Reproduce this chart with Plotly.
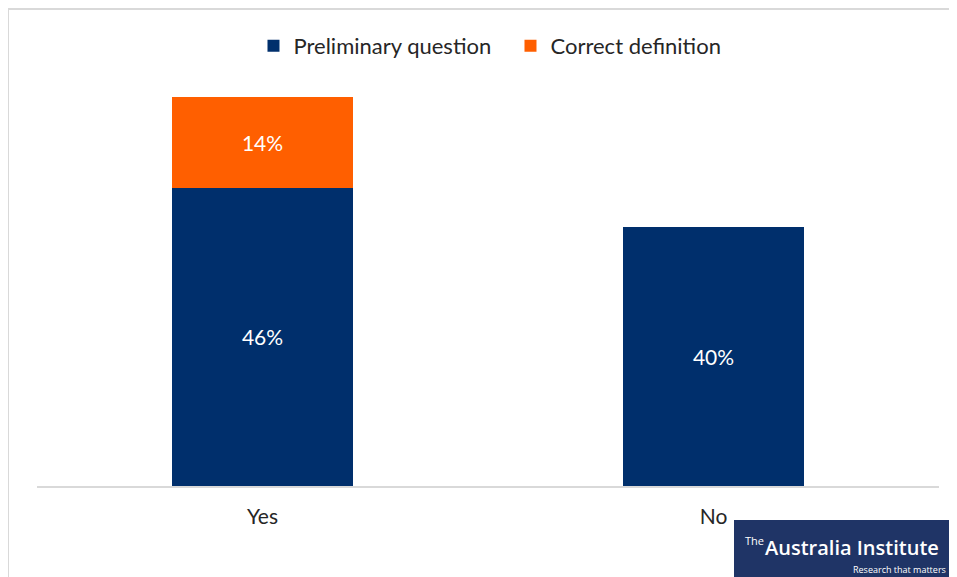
import plotly.graph_objects as go

categories = ["Yes", "No"]
preliminary = [46, 40]
correct_def = [14, None]
series_names = ["Preliminary question", "Correct definition"]

NAVY = "#002F6C"
ORANGE = "#FF5F00"
FONT = "Lato, 'Open Sans', sans-serif"

fig = go.Figure()
fig.add_trace(go.Bar(
    x=categories, y=preliminary, name=series_names[0],
    marker=dict(color=NAVY, line=dict(width=0)),
    text=[f"{v}%" for v in preliminary], textposition="inside",
    insidetextanchor="middle", textfont=dict(color="white", size=21, family=FONT),
))
fig.add_trace(go.Bar(
    x=categories, y=correct_def, name=series_names[1],
    marker=dict(color=ORANGE, line=dict(width=0)),
    text=[f"{v}%" if v is not None else "" for v in correct_def], textposition="inside",
    insidetextanchor="middle", textfont=dict(color="white", size=21, family=FONT),
))

# page body has an 8px margin; work in screen coordinates and shift
O = 8
W, H = 957 - O, 577 - O
L, R, T, B = 37 - O, 939 - O, 80 - O, 486 - O
pw, ph = R - L, B - T

def px(x):
    return (x - O - L) / pw

def py(y):
    return (B - (y - O)) / ph

fig.update_layout(
    width=W, height=H,
    margin=dict(l=L, r=W - R, t=T, b=H - B, pad=0),
    barmode="stack", bargap=0.6,
    plot_bgcolor="white", paper_bgcolor="white",
    font=dict(family=FONT, size=21, color="#262626"),
    showlegend=True,
    legend=dict(orientation="h", x=px(258) - 0.005, xanchor="left", y=py(46), yanchor="middle",
                font=dict(size=22, family=FONT, color="#262626"), traceorder="normal",
                itemwidth=30, entrywidth=212, entrywidthmode="pixels"),
    xaxis=dict(showgrid=False, showline=True, linecolor="#D9D9D9", linewidth=2,
               ticks="", ticklabelstandoff=11,
               tickfont=dict(size=21, family=FONT, color="#262626")),
    yaxis=dict(range=[0, 60 * ph / 389], visible=False, showgrid=False),
    shapes=[
        dict(type="rect", xref="paper", yref="paper",
             x0=px(8), x1=px(1000), y0=py(600), y1=py(9),
             line=dict(color="#D9D9D9", width=2), fillcolor="rgba(0,0,0,0)", layer="below"),
        dict(type="rect", xref="paper", yref="paper",
             x0=px(734), x1=px(970), y0=py(590), y1=py(520),
             line=dict(width=0), fillcolor="#1F3466", layer="above"),
    ],
    annotations=[
        dict(xref="paper", yref="paper", x=px(744), y=py(540), xanchor="left", yanchor="middle",
             text="The", showarrow=False, borderpad=0,
             font=dict(size=11, color="white", family="'Open Sans', sans-serif")),
        dict(xref="paper", yref="paper", x=px(764), y=py(547), xanchor="left", yanchor="middle",
             text="Australia Institute", showarrow=False, borderpad=0,
             font=dict(size=20, color="white", family="'Open Sans', sans-serif", weight=600)),
        dict(xref="paper", yref="paper", x=px(947), y=py(569), xanchor="right", yanchor="middle",
             text="Research that matters", showarrow=False, borderpad=0,
             font=dict(size=9, color="white", family="'Open Sans', sans-serif")),
    ],
)

fig.write_html("out.html")
